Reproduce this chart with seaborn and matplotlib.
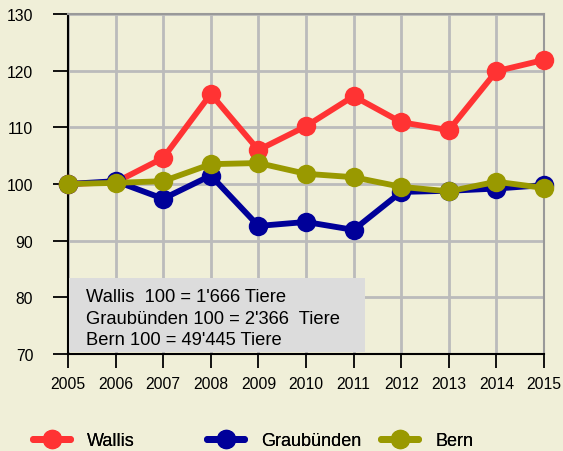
import matplotlib

matplotlib.use("Agg")
import matplotlib.pyplot as plt
from matplotlib.patches import Rectangle
import pandas as pd
import seaborn as sns

years = [2005, 2006, 2007, 2008, 2009, 2010, 2011, 2012, 2013, 2014, 2015]
wallis = [100, 100.3, 104.6, 115.9, 106.0, 110.2, 115.5, 110.9, 109.5, 119.9, 121.9]
graubuenden = [100, 100.5, 97.4, 101.5, 92.6, 93.3, 91.9, 98.6, 98.8, 99.2, 99.8]
bern = [100, 100.2, 100.5, 103.5, 103.7, 101.8, 101.2, 99.5, 98.7, 100.4, 99.3]
series_names = ["Wallis", "Graubünden", "Bern"]
colors = ["#FF3333", "#000099", "#999900"]
note_lines = [
    "Wallis  100 = 1'666 Tiere",
    "Graubünden 100 = 2'366  Tiere",
    "Bern 100 = 49'445 Tiere",
]

bg = "#F0EFD8"


def main() -> None:
    df = pd.DataFrame({
        "Jahr": years * 3,
        "Index": wallis + graubuenden + bern,
        "Kanton": [n for n in series_names for _ in years],
    })

    sns.set_style("white")
    plt.rcParams["font.family"] = ["Liberation Sans", "DejaVu Sans"]
    plt.rcParams["text.color"] = "black"

    fig = plt.figure(figsize=(5.63, 4.52), dpi=100, facecolor=bg)
    ax = fig.add_axes([68 / 563, 1 - 355 / 452, (544 - 68) / 563, (355 - 15) / 452])
    ax.set_facecolor(bg)

    sns.lineplot(
        data=df, x="Jahr", y="Index", hue="Kanton", hue_order=series_names,
        palette=colors, marker="o", markersize=14, linewidth=4.2,
        markeredgewidth=0, ax=ax, legend=False, clip_on=False, zorder=3,
    )

    ax.set_xlim(2005, 2015)
    ax.set_ylim(70, 130)
    ax.set_xticks(years)
    ax.set_yticks(range(70, 131, 10))
    ax.set_xlabel("")
    ax.set_ylabel("")
    ax.grid(True, color="#BBBBBB", linewidth=2, zorder=0)
    ax.set_axisbelow(True)
    for side in ["left", "bottom"]:
        ax.spines[side].set_color("black")
        ax.spines[side].set_linewidth(1.5)
    for side in ["top", "right"]:
        ax.spines[side].set_color("#999999")
        ax.spines[side].set_linewidth(1.5)
    ax.tick_params(axis="y", left=True, length=11, width=1.3, color="black",
                   labelcolor="black", labelsize=11.3, pad=14)
    ax.tick_params(axis="x", bottom=True, length=10, width=1.3, color="black",
                   labelcolor="black", labelsize=11.3, pad=6)

    # grey note box with the base values
    ax.add_patch(Rectangle((1 / 476, 2 / 340), (365 - 69) / 476, (353 - 279) / 340,
                           transform=ax.transAxes, facecolor="#DCDCDC",
                           edgecolor="none", zorder=4))
    for i, line in enumerate(note_lines):
        ax.text(18 / 476, (355 - 298 - 21.2 * i) / 340, line, transform=ax.transAxes,
                fontsize=13.2, va="center", ha="left", zorder=5)

    for i, (name, c) in enumerate(zip(series_names, colors)):
        handle = plt.Line2D([], [], color=c, linewidth=5, marker="o", markersize=14,
                            markeredgewidth=0)
        leg = fig.legend(
            [handle], [name], loc="center left",
            bbox_to_anchor=((33 + 174 * i) / 563, 1 - 442 / 452),
            frameon=False, fontsize=13, handlelength=2.05, handletextpad=0.95,
            borderpad=0, borderaxespad=0,
        )
        fig.add_artist(leg)

    fig.savefig("out.png", dpi=100, facecolor=bg)
    plt.close(fig)


if __name__ == "__main__":
    main()
